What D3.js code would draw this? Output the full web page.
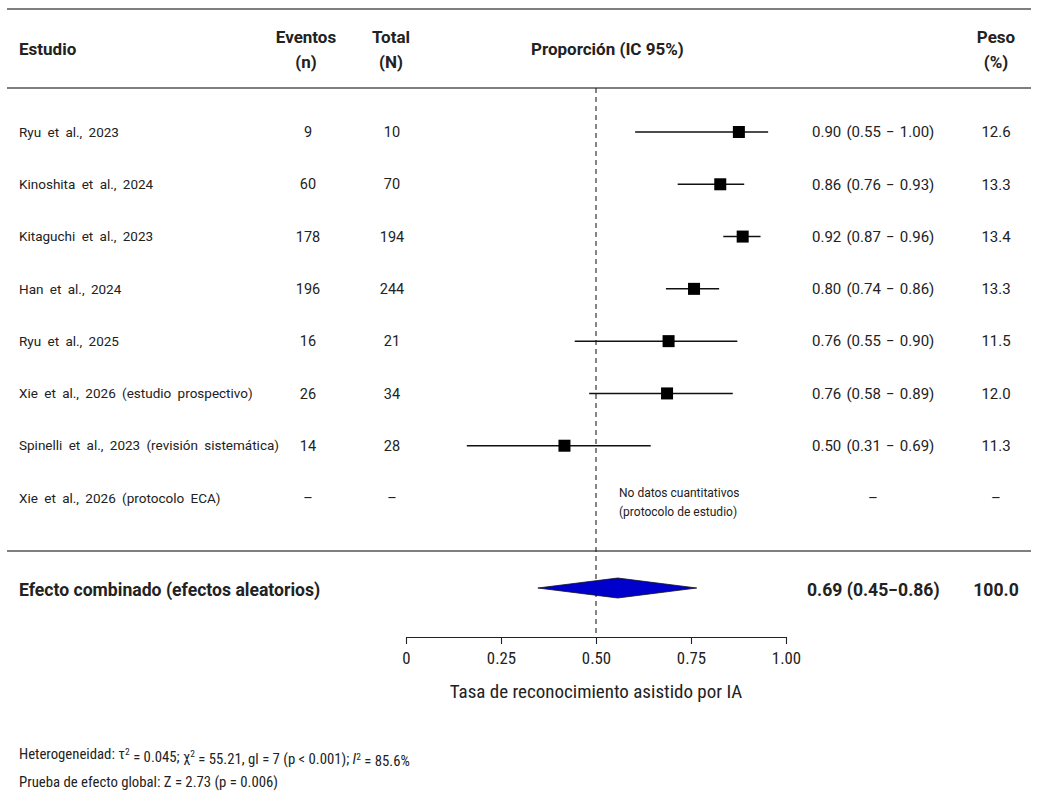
<!DOCTYPE html>
<html>
<head>
<meta charset="utf-8">
<script src="https://cdn.jsdelivr.net/npm/d3@7"></script>
<style>
  html, body { margin: 0; padding: 0; background: #fff; }
  svg { display: block; }
  .tbl { font-family: Roboto, "Noto Sans", "Liberation Sans", sans-serif; fill: #222; }
  .nar { font-family: "Liberation Sans Narrow", "Roboto Condensed", "Arial Narrow", "Liberation Sans", sans-serif; fill: #222; }
</style>
</head>
<body>
<script>
// ---------- data ----------
const studies = [
  "Ryu et al., 2023",
  "Kinoshita et al., 2024",
  "Kitaguchi et al., 2023",
  "Han et al., 2024",
  "Ryu et al., 2025",
  "Xie et al., 2026 (estudio prospectivo)",
  "Spinelli et al., 2023 (revisión sistemática)",
  "Xie et al., 2026 (protocolo ECA)"
];
const events = ["9", "60", "178", "196", "16", "26", "14", "–"];
const totals = ["10", "70", "194", "244", "21", "34", "28", "–"];
const estimates = [0.876, 0.827, 0.886, 0.758, 0.691, 0.687, 0.417, null];
const lowers    = [0.603, 0.715, 0.835, 0.684, 0.444, 0.482, 0.160, null];
const uppers    = [0.953, 0.890, 0.933, 0.824, 0.872, 0.860, 0.644, null];
const ciLabels = [
  "0.90 (0.55 − 1.00)",
  "0.86 (0.76 − 0.93)",
  "0.92 (0.87 − 0.96)",
  "0.80 (0.74 − 0.86)",
  "0.76 (0.55 − 0.90)",
  "0.76 (0.58 − 0.89)",
  "0.50 (0.31 − 0.69)",
  "–"
];
const weights = ["12.6", "13.3", "13.4", "13.3", "11.5", "12.0", "11.3", "–"];
const pooledLower = 0.347, pooledEst = 0.557, pooledUpper = 0.765;
const pooledLabel = "0.69 (0.45−0.86)";
const pooledWeight = "100.0";
const pooledName = "Efecto combinado (efectos aleatorios)";
const refValue = 0.5;
const tickValues = [0, 0.25, 0.5, 0.75, 1];
const tickLabels = ["0", "0.25", "0.50", "0.75", "1.00"];
const axisTitle = "Tasa de reconocimiento asistido por IA";
const noDataLines = ["No datos cuantitativos", "(protocolo de estudio)"];

// ---------- layout ----------
const W = 1048, H = 799;
const svg = d3.select("body").append("svg").attr("width", W).attr("height", H);
svg.append("rect").attr("width", W).attr("height", H).attr("fill", "#fff");

const x = d3.scaleLinear().domain([0, 1]).range([406, 786]);
const y = d3.scaleLinear().domain([0, studies.length - 1]).range([132, 498]);

const colStudy = 19, colEv = 308, colTot = 392, colCI = 812, colW = 996;
const ruleX0 = 7, ruleX1 = 1031;
const axisY = 637, pooledY = 588;

// rules
[9, 88, 551].forEach(yy => {
  svg.append("line").attr("x1", ruleX0).attr("x2", ruleX1).attr("y1", yy).attr("y2", yy)
    .attr("stroke", "#555").attr("stroke-width", 1.4);
});

// header
const hdr = svg.append("g").attr("class", "tbl").style("font-weight", "bold").style("font-size", "17px");
hdr.append("text").attr("x", colStudy).attr("y", 49).attr("dy", "0.35em").text("Estudio");
hdr.append("text").attr("x", 306).attr("y", 37).attr("dy", "0.35em").attr("text-anchor", "middle").text("Eventos");
hdr.append("text").attr("x", 306).attr("y", 62).attr("dy", "0.35em").attr("text-anchor", "middle").text("(n)");
hdr.append("text").attr("x", 391).attr("y", 37).attr("dy", "0.35em").attr("text-anchor", "middle").text("Total");
hdr.append("text").attr("x", 391).attr("y", 62).attr("dy", "0.35em").attr("text-anchor", "middle").text("(N)");
hdr.append("text").attr("x", 531).attr("y", 49).attr("dy", "0.35em").text("Proporción (IC 95%)");
hdr.append("text").attr("x", 996).attr("y", 37).attr("dy", "0.35em").attr("text-anchor", "middle").text("Peso");
hdr.append("text").attr("x", 996).attr("y", 62).attr("dy", "0.35em").attr("text-anchor", "middle").text("(%)");

// reference dashed line
svg.append("line").attr("x1", x(refValue)).attr("x2", x(refValue)).attr("y1", 88).attr("y2", axisY)
  .attr("stroke", "#222").attr("stroke-width", 1.1).attr("stroke-dasharray", "5,4");

// rows
const rows = svg.append("g").attr("class", "tbl");
studies.forEach((s, i) => {
  const yy = y(i);
  rows.append("text").attr("x", colStudy).attr("y", yy).attr("dy", "0.35em")
    .style("font-size", "13.5px").style("word-spacing", "3px").text(s);
  rows.append("text").attr("x", colEv).attr("y", yy).attr("dy", "0.35em").attr("text-anchor", "middle")
    .style("font-size", "14.5px").text(events[i]);
  rows.append("text").attr("x", colTot).attr("y", yy).attr("dy", "0.35em").attr("text-anchor", "middle")
    .style("font-size", "14.5px").text(totals[i]);
  if (estimates[i] !== null) {
    rows.append("text").attr("x", colCI).attr("y", yy).attr("dy", "0.35em")
      .style("font-size", "15px").style("word-spacing", "1.5px").text(ciLabels[i]);
  } else {
    rows.append("text").attr("x", 873).attr("y", yy).attr("dy", "0.35em").attr("text-anchor", "middle")
      .style("font-size", "15px").text(ciLabels[i]);
  }
  rows.append("text").attr("x", colW).attr("y", yy).attr("dy", "0.35em").attr("text-anchor", "middle")
    .style("font-size", "15px").text(weights[i]);
});

// CI lines and squares
const marks = svg.append("g");
studies.forEach((s, i) => {
  if (estimates[i] === null) return;
  const yy = y(i);
  marks.append("line").attr("x1", x(lowers[i])).attr("x2", x(uppers[i])).attr("y1", yy).attr("y2", yy)
    .attr("stroke", "#111").attr("stroke-width", 1.5);
  const sz = 12;
  marks.append("rect").attr("x", x(estimates[i]) - sz / 2).attr("y", yy - sz / 2)
    .attr("width", sz).attr("height", sz).attr("fill", "#000");
});

// no-data note
const nd = svg.append("g").attr("class", "tbl").style("font-size", "12px");
noDataLines.forEach((t, k) => {
  nd.append("text").attr("x", 619).attr("y", y(7) - 5 + k * 19).attr("dy", "0.35em").text(t);
});

// pooled
const pg = svg.append("g").attr("class", "tbl").style("font-weight", "bold").style("font-size", "17.6px");
pg.append("text").attr("x", colStudy).attr("y", pooledY + 2).attr("dy", "0.35em").text(pooledName);
pg.append("text").attr("x", 807).attr("y", pooledY + 2).attr("dy", "0.35em").text(pooledLabel);
pg.append("text").attr("x", 996).attr("y", pooledY + 2).attr("dy", "0.35em").attr("text-anchor", "middle").text(pooledWeight);

const dh = 10;
svg.append("path")
  .attr("d", `M${x(pooledLower)},${pooledY} L${x(pooledEst)},${pooledY - dh} L${x(pooledUpper)},${pooledY} L${x(pooledEst)},${pooledY + dh} Z`)
  .attr("fill", "#0000cc").attr("stroke", "#111").attr("stroke-width", 0.8);

// axis
const axis = d3.axisBottom(x).tickValues(tickValues).tickFormat((d, i) => tickLabels[i]).tickSize(7).tickPadding(8).tickSizeOuter(0);
const ag = svg.append("g").attr("transform", `translate(0,${axisY})`).call(axis);
ag.select(".domain").attr("stroke", "#222").attr("stroke-width", 1.1);
ag.selectAll(".tick line").attr("stroke", "#222").attr("stroke-width", 1.1);
ag.selectAll(".tick text").attr("class", "nar").style("font-size", "16.8px").attr("fill", "#222");

svg.append("text").attr("class", "nar").attr("x", x(0.5)).attr("y", 691).attr("dy", "0.35em")
  .attr("text-anchor", "middle").style("font-size", "19px").text(axisTitle);

// footer
const f1 = svg.append("text").attr("class", "nar").attr("x", colStudy).attr("y", 754).attr("dy", "0.35em").style("font-size", "14.75px");
f1.append("tspan").text("Heterogeneidad: τ");
f1.append("tspan").attr("dy", "-0.45em").style("font-size", "9.5px").text("2");
f1.append("tspan").attr("dy", "0.45em").text(" = 0.045; χ");
f1.append("tspan").attr("dy", "-0.45em").style("font-size", "9.5px").text("2");
f1.append("tspan").attr("dy", "0.45em").text(" = 55.21, gl = 7 (p < 0.001); ");
f1.append("tspan").style("font-style", "italic").text("I");
f1.append("tspan").attr("dy", "-0.45em").style("font-size", "9.5px").text("2");
f1.append("tspan").attr("dy", "0.45em").text(" = 85.6%");

svg.append("text").attr("class", "nar").attr("x", colStudy).attr("y", 782).attr("dy", "0.35em")
  .style("font-size", "14.75px").text("Prueba de efecto global: Z = 2.73 (p = 0.006)");
</script>
</body>
</html>
